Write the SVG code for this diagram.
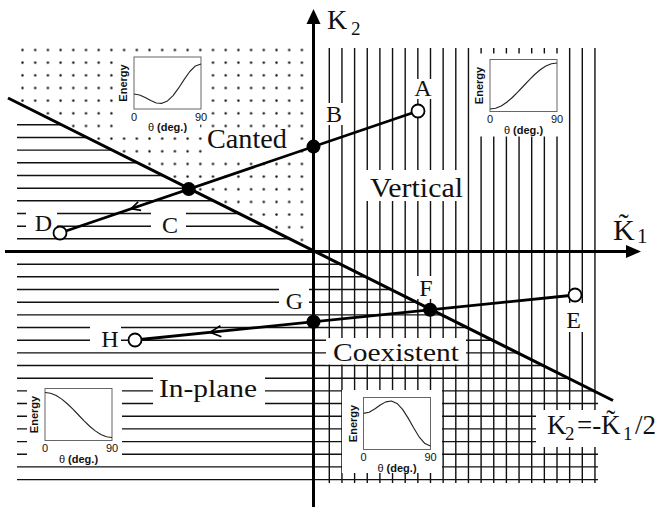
<svg xmlns="http://www.w3.org/2000/svg" width="659" height="507" viewBox="0 0 659 507">
<style>
.hatch{fill:none;stroke:#111;stroke-width:1.4}
.mask{fill:#fff}
.ibox{fill:none;stroke:#666;stroke-width:1}
.icurve{fill:none;stroke:#222;stroke-width:1.1;stroke-linejoin:round}
.itxt{font-family:"Liberation Sans",Arial,sans-serif;font-size:11px;fill:#111;text-anchor:middle}
.ien{font-weight:bold}
.lbl{font-family:"Liberation Serif","Times New Roman",serif;font-size:24px;fill:#111;text-anchor:middle}
.reg{font-family:"Liberation Serif","Times New Roman",serif;fill:#111}
.ax{font-family:"Liberation Serif","Times New Roman",serif;fill:#111}
.thick{fill:none;stroke:#000;stroke-width:3}
.conn{fill:none;stroke:#000;stroke-width:2.8}
.chev{fill:none;stroke:#000;stroke-width:1.6}
.open{fill:#fff;stroke:#000;stroke-width:1.8}
.solid{fill:#000}
</style>
<defs>
<pattern id="dots" patternUnits="userSpaceOnUse" x="16.15" y="43.67" width="12.7" height="12.66">
<circle cx="6.35" cy="6.33" r="1.2" fill="#111"/>
</pattern>
<clipPath id="below"><polygon points="0,94.75 659,424.25 659,507 0,507"/></clipPath>
<clipPath id="above"><polygon points="0,0 313,0 313,251.5 0,94.75"/></clipPath>
</defs>
<rect width="659" height="507" fill="#fff"/>
<g id="hatching">
<rect x="16" y="44" width="292" height="202" fill="url(#dots)" clip-path="url(#above)"/>
<path class="hatch" d="M329.3 48V483M341.95 48V483M354.6 48V483M367.25 48V483M379.9 48V483M392.55 48V483M405.2 48V483M417.85 48V483M430.5 48V483M443.15 48V483M455.8 48V483M468.45 48V483M481.1 48V483M493.75 48V483M506.4 48V483M519.05 48V483M531.7 48V483M544.35 48V483M557 48V483M569.65 48V483M582.3 48V483M594.95 48V483"/>
<path class="hatch" clip-path="url(#below)" d="M17 124.8H598M17 137.5H598M17 150.1H598M17 162.8H598M17 175.5H598M17 188.2H598M17 200.8H598M17 213.5H598M17 226.2H598M17 238.8H598M17 264.2H598M17 276.8H598M17 289.5H598M17 302.2H598M17 314.9H598M17 327.5H598M17 340.2H598M17 352.9H598M17 365.5H598M17 378.2H598M17 390.9H598M17 403.5H598M17 416.2H598M17 428.9H598M17 441.6H598M17 454.2H598M17 466.9H598M17 479.6H598"/>
</g>
<g id="masks">
<rect class="mask" x="113" y="55" width="96" height="66"/>
<rect class="mask" x="118" y="119" width="82" height="15"/>
<rect class="mask" x="203" y="129" width="90" height="24"/>
<rect class="mask" x="474" y="53.5" width="92" height="83"/>
<rect class="mask" x="411" y="79" width="25" height="20"/>
<rect class="mask" x="322" y="103" width="24" height="22"/>
<rect class="mask" x="363" y="170" width="103" height="31"/>
<rect class="mask" x="560" y="303" width="26" height="29"/>
<rect class="mask" x="413" y="276" width="24" height="23"/>
<rect class="mask" x="279" y="288" width="30" height="23"/>
<rect class="mask" x="90" y="324" width="31" height="25"/>
<rect class="mask" x="151" y="208" width="35" height="28"/>
<rect class="mask" x="26" y="208" width="31" height="28"/>
<rect class="mask" x="326" y="338" width="140" height="26.5"/>
<rect class="mask" x="153" y="376" width="112" height="34"/>
<rect class="mask" x="27" y="383" width="95" height="78"/>
<rect class="mask" x="342" y="390" width="100" height="83"/>
<rect class="mask" x="536" y="410" width="123" height="37"/>
</g>
<g id="inset-canted" transform="translate(134,57)">
<rect class="ibox" width="67" height="52"/>
<polyline class="icurve" points="0,37 5.58,37.96 11.17,40.47 16.75,43.57 22.33,45.95 27.92,46.35 33.5,43.93 39.08,38.58 44.67,30.95 50.25,22.36 55.83,14.5 61.42,8.98 67,7"/>
<text class="itxt ien" transform="translate(-7,26) rotate(-90)">Energy</text>
<text class="itxt" x="0" y="63.5">0</text><text class="itxt" x="67" y="63.5">90</text>
<text class="itxt" x="33.5" y="74">θ <tspan class="ien">(deg.)</tspan></text>
</g>
<g id="inset-vertical" transform="translate(490,59.5)">
<rect class="ibox" width="67" height="52"/>
<polyline class="icurve" points="0,49.5 5.58,48.72 11.17,46.42 16.75,42.77 22.33,38 27.92,32.45 33.5,26.5 39.08,20.55 44.67,15 50.25,10.23 55.83,6.58 61.42,4.28 67,3.5"/>
<text class="itxt ien" transform="translate(-7,26) rotate(-90)">Energy</text>
<text class="itxt" x="0" y="63.5">0</text><text class="itxt" x="67" y="63.5">90</text>
<text class="itxt" x="33.5" y="74">θ <tspan class="ien">(deg.)</tspan></text>
</g>
<g id="inset-inplane" transform="translate(45,388.5)">
<rect class="ibox" width="67" height="52"/>
<polyline class="icurve" points="0,4 5.58,4.77 11.17,7.01 16.75,10.59 22.33,15.25 27.92,20.68 33.5,26.5 39.08,32.32 44.67,37.75 50.25,42.41 55.83,45.99 61.42,48.24 67,49"/>
<text class="itxt ien" transform="translate(-7,26) rotate(-90)">Energy</text>
<text class="itxt" x="0" y="63.5">0</text><text class="itxt" x="67" y="63.5">90</text>
<text class="itxt" x="33.5" y="74">θ <tspan class="ien">(deg.)</tspan></text>
</g>
<g id="inset-coexistent" transform="translate(363.5,397.5)">
<rect class="ibox" width="67" height="52"/>
<polyline class="icurve" points="0,15.9 5.58,14.7 11.17,11.52 16.75,7.55 22.33,4.36 27.92,3.48 33.5,5.93 39.08,11.89 44.67,20.62 50.25,30.54 55.83,39.68 61.42,46.11 67,48.42"/>
<text class="itxt ien" transform="translate(-7,26) rotate(-90)">Energy</text>
<text class="itxt" x="0" y="63.5">0</text><text class="itxt" x="67" y="63.5">90</text>
<text class="itxt" x="33.5" y="74">θ <tspan class="ien">(deg.)</tspan></text>
</g>
<g id="axes">
<line class="thick" x1="313.5" y1="507" x2="313.5" y2="22"/>
<polygon points="313.5,9 306.5,24 320.5,24" fill="#000"/>
<line class="thick" x1="5" y1="251.5" x2="628" y2="251.5"/>
<polygon points="641,251.5 626,245 626,258" fill="#000"/>
<text class="ax" x="327" y="29" font-size="28">K<tspan x="351" y="35" font-size="19">2</tspan></text>
<text class="ax" x="613" y="240" font-size="30">K̃<tspan x="637" y="243" font-size="21">1</tspan></text>
</g>
<g id="boundary">
<line class="thick" x1="8" y1="98" x2="613" y2="400.5"/>
<text class="ax" x="547" y="434" font-size="27">K<tspan x="565" y="440" font-size="19">2</tspan><tspan x="577" y="434">=-</tspan><tspan x="601" y="434">K̃</tspan><tspan x="623" y="440" font-size="19">1</tspan><tspan x="635" y="434">/2</tspan></text>
</g>
<g id="connectors">
<line class="conn" x1="60" y1="233" x2="418" y2="111"/>
<line class="conn" x1="135" y1="340" x2="575" y2="295" stroke-width="2.5"/>
<path class="chev" d="M141.1,210.4L131,208.8L138.2,201.9"/>
<path class="chev" d="M221.4,336.8L210,332.3L220.4,325.8"/>
</g>
<g id="regions">
<text class="reg" x="207" y="148" font-size="27" textLength="80" lengthAdjust="spacingAndGlyphs">Canted</text>
<text class="reg" x="370" y="197" font-size="27" textLength="93" lengthAdjust="spacingAndGlyphs">Vertical</text>
<text class="reg" x="333" y="361" font-size="25" textLength="126" lengthAdjust="spacingAndGlyphs">Coexistent</text>
<text class="reg" x="159" y="397" font-size="25" textLength="98" lengthAdjust="spacingAndGlyphs">In-plane</text>
</g>
<g id="node-A"><circle class="open" cx="418" cy="111" r="6.5"/><text class="lbl" x="423" y="96">A</text></g>
<g id="node-B"><circle class="solid" cx="313.5" cy="146.6" r="7"/><text class="lbl" x="334" y="122">B</text></g>
<g id="node-C"><circle class="solid" cx="188.75" cy="189.1" r="7"/><text class="lbl" x="170" y="233">C</text></g>
<g id="node-D"><circle class="open" cx="60" cy="233" r="6.5"/><text class="lbl" x="43.5" y="231">D</text></g>
<g id="node-E"><circle class="open" cx="575" cy="295" r="6.5"/><text class="lbl" x="573.5" y="328">E</text></g>
<g id="node-F"><circle class="solid" cx="430.1" cy="309.8" r="7"/><text class="lbl" x="426" y="296">F</text></g>
<g id="node-G"><circle class="solid" cx="313.5" cy="321.7" r="7"/><text class="lbl" x="294.5" y="308.5">G</text></g>
<g id="node-H"><circle class="open" cx="135" cy="340" r="6.5"/><text class="lbl" x="110" y="347">H</text></g>
</svg>
